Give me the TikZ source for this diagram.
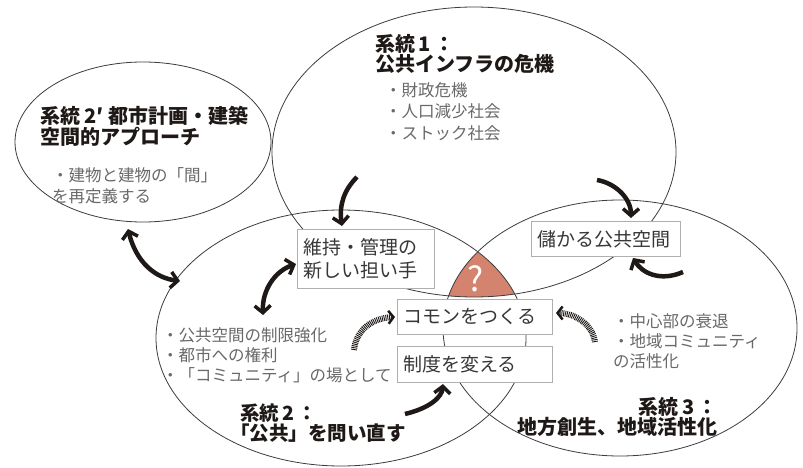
\documentclass[tikz,border=0pt]{standalone}
\usepackage{fontspec}
\newfontfamily\jp{Noto Sans CJK JP}
\usetikzlibrary{arrows.meta,shapes.geometric}
\definecolor{qfill}{RGB}{212,132,110}
\definecolor{ink}{RGB}{30,25,22}
\definecolor{boxtext}{RGB}{55,55,55}
\definecolor{graytext}{RGB}{105,105,105}
\definecolor{boxline}{RGB}{175,175,175}
\definecolor{eline}{RGB}{60,60,60}
\begin{document}
\begin{tikzpicture}[x=1pt,y=-1pt,
  ell/.style={draw=eline, line width=0.8pt, ellipse, inner sep=0pt},
  title/.style={font=\jp\bfseries\fontsize{20}{19}\selectfont, text=ink, inner sep=0pt, align=left},
  note/.style={font=\jp\fontsize{16.5}{21}\selectfont, text=graytext, inner sep=0pt, align=left, anchor=north west},
  tbox/.style={draw=boxline, line width=0.8pt, fill=white, font=\jp\fontsize{19}{23}\selectfont, text=boxtext, inner xsep=6pt, align=left, anchor=north west},
  bigarrow/.style={line width=4.5pt, draw=ink, -{Straight Barb[length=7pt,width=16pt,line width=3.5pt]}},
  dblarrow/.style={line width=4.5pt, draw=ink, {Straight Barb[length=7pt,width=16pt,line width=3.5pt]}-{Straight Barb[length=7pt,width=16pt,line width=3.5pt]}},
  hatcharrow/.style={line width=6pt, draw=ink, dash pattern=on 0.9pt off 0.9pt, -{Straight Barb[length=5pt,width=13pt,line width=2.5pt]}}
]
\useasboundingbox (0,0) rectangle (803,468);
\fill[white] (0,0) rectangle (803,468);

% intersection of the three systems
\begin{scope}
\clip (474,152) ellipse [x radius=202pt, y radius=145pt];
\clip (341,338) ellipse [x radius=185pt, y radius=128pt];
\fill[qfill] (620,328) ellipse [x radius=177pt, y radius=128pt];
\end{scope}

% ellipses
\node[ell, minimum width=256pt, minimum height=160pt] (e2p) at (143,142) {};
\node[ell, minimum width=404pt, minimum height=290pt] (e1) at (474,152) {};
\node[ell, minimum width=370pt, minimum height=256pt] (e2) at (341,338) {};
\node[ell, minimum width=354pt, minimum height=256pt] (e3) at (620,328) {};

\node[font=\jp\fontsize{34}{34}\selectfont, text=white, inner sep=0pt] (q) at (476,279) {?};

% boxes
\node[tbox, text width=125pt, minimum height=59pt] (b1) at (297,229) {維持・管理の\\新しい担い手};
\node[tbox, text width=137pt, minimum height=35pt] (b2) at (531,221) {儲かる公共空間};
\node[tbox, text width=143pt, minimum height=35pt] (b3) at (397,299) {コモンをつくる};
\node[tbox, text width=143pt, minimum height=36pt] (b4) at (397,346) {制度を変える};

% titles
\node[title, anchor=north west, font=\jp\bfseries\fontsize{20}{21}\selectfont] (t2p) at (40,106) {系統 2′ 都市計画・建築\\空間的アプローチ};
\node[title, anchor=north west, font=\jp\bfseries\fontsize{20}{17.5}\selectfont] (t1) at (375,34) {系統\,1\,：\\公共インフラの危機};
\node[title, anchor=north west, font=\jp\bfseries\fontsize{19.5}{18}\selectfont] (t2) at (240,404) {系統\,2\,：\\\kern-0.5em「公共」を問い直す};
\node[title, anchor=north east, align=right] (t3) at (718,397) {系統\,3\,：\\地方創生、地域活性化};

% notes
\node[note] (n2p) at (52,167) {・建物と建物の「間」\\を再定義する};
\node[note, font=\jp\fontsize{16.5}{21.5}\selectfont] (n1) at (385,82) {・財政危機\\・人口減少社会\\・ストック社会};
\node[note, font=\jp\fontsize{16.5}{20}\selectfont] (n2) at (162,327) {・公共空間の制限強化\\・都市への権利\\・「コミュニティ」の場として};
\node[note, font=\jp\fontsize{16.5}{20}\selectfont] (n3) at (613,313) {・中心部の衰退\\・地域コミュニティ\\の活性化};

% arrow end points
\coordinate (a1s) at (128,229);
\coordinate (a1e) at (180,281);
\coordinate (a2s) at (263,315);
\coordinate (a2e) at (296,264);
\coordinate (a3s) at (357,177);
\coordinate (a3e) at (342,226);
\coordinate (a4s) at (597,180);
\coordinate (a4e) at (631,218);
\coordinate (a5s) at (683,272);
\coordinate (a5e) at (633,258);
\coordinate (a6s) at (405,414);
\coordinate (a6e) at (443,384);
\coordinate (h1s) at (354,350);
\coordinate (h1e) at (395,317);
\coordinate (h2s) at (595,342);
\coordinate (h2e) at (556,313);

% arrows
\draw[dblarrow] (a1s) .. controls (136,262) and (155,278) .. (a1e);
\draw[dblarrow] (a2s) .. controls (262,290) and (275,271) .. (a2e);
\draw[bigarrow] (a3s) .. controls (344,190) and (339,205) .. (a3e);
\draw[bigarrow] (a4s) .. controls (615,183) and (631,198) .. (a4e);
\draw[bigarrow] (a5s) .. controls (660,282) and (642,273) .. (a5e);
\draw[bigarrow] (a6s) .. controls (430,408) and (442,397) .. (a6e);
\draw[hatcharrow] (h1s) .. controls (356,330) and (372,318) .. (h1e);
\draw[hatcharrow] (h2s) .. controls (593,325) and (575,313) .. (h2e);
\end{tikzpicture}
\end{document}
